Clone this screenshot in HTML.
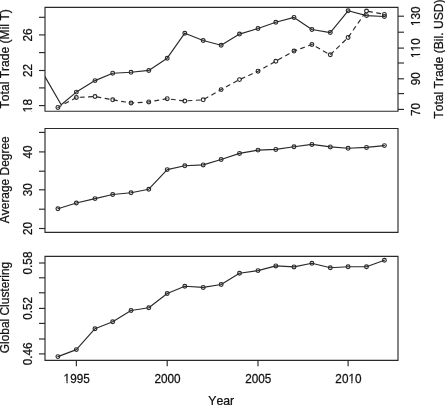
<!DOCTYPE html>
<html><head><meta charset="utf-8"><style>
html,body{margin:0;padding:0;background:#fff;width:445px;height:405px;overflow:hidden;}
svg{display:block;filter:grayscale(1);font-family:"Liberation Sans", sans-serif;}
</style></head><body>
<svg xmlns="http://www.w3.org/2000/svg" width="445" height="405" viewBox="0 0 445 405">
<defs><clipPath id="c0"><rect x="45.0" y="7.4" width="353.00" height="103.80"/></clipPath><clipPath id="c1"><rect x="45.0" y="128.5" width="353.00" height="103.80"/></clipPath><clipPath id="c2"><rect x="45.0" y="256.4" width="353.00" height="103.90"/></clipPath></defs>
<g fill="none" stroke="#2a2a2a" stroke-width="1.15" stroke-linecap="round" stroke-linejoin="round">
<path d="M45.0,7.4H398.0V111.2H45.0Z" fill="none" stroke-linejoin="miter" stroke-linecap="butt"/>
<path d="M45.0,128.5H398.0V232.3H45.0Z" fill="none" stroke-linejoin="miter" stroke-linecap="butt"/>
<path d="M45.0,256.4H398.0V360.3H45.0Z" fill="none" stroke-linejoin="miter" stroke-linecap="butt"/>
<g clip-path="url(#c0)">
<polyline points="40.00,68.10 61.20,104.70 76.35,92.10 95.00,80.60 112.70,73.20 131.05,72.30 148.80,70.40 167.20,58.20 184.80,33.20 203.20,40.50 221.15,45.30 239.50,34.10 258.00,28.50 275.80,22.20 294.00,17.40 311.90,29.50 330.30,32.60 348.10,10.80 366.50,15.60 384.40,16.50" fill="none" />
<circle cx="76.35" cy="92.10" r="1.9"/>
<circle cx="95.00" cy="80.60" r="1.9"/>
<circle cx="112.70" cy="73.20" r="1.9"/>
<circle cx="131.05" cy="72.30" r="1.9"/>
<circle cx="148.80" cy="70.40" r="1.9"/>
<circle cx="167.20" cy="58.20" r="1.9"/>
<circle cx="184.80" cy="33.20" r="1.9"/>
<circle cx="203.20" cy="40.50" r="1.9"/>
<circle cx="221.15" cy="45.30" r="1.9"/>
<circle cx="239.50" cy="34.10" r="1.9"/>
<circle cx="258.00" cy="28.50" r="1.9"/>
<circle cx="275.80" cy="22.20" r="1.9"/>
<circle cx="294.00" cy="17.40" r="1.9"/>
<circle cx="311.90" cy="29.50" r="1.9"/>
<circle cx="330.30" cy="32.60" r="1.9"/>
<circle cx="348.10" cy="10.80" r="1.9"/>
<circle cx="366.50" cy="15.60" r="1.9"/>
<circle cx="384.40" cy="16.50" r="1.9"/>
<polyline points="57.90,107.40 76.35,97.50 95.00,96.50 112.70,99.80 131.05,103.00 148.80,101.90 167.20,98.70 184.80,101.00 203.20,99.80 221.15,89.60 239.50,79.60 258.00,71.20 275.80,61.20 294.00,51.10 311.90,44.50 330.30,54.80 348.10,37.40 366.50,11.00 384.40,14.40" fill="none" stroke-dasharray="4.0 4.37" stroke-dashoffset="0.32"/>
<circle cx="57.90" cy="107.40" r="1.9"/>
<circle cx="76.35" cy="97.50" r="1.9"/>
<circle cx="95.00" cy="96.50" r="1.9"/>
<circle cx="112.70" cy="99.80" r="1.9"/>
<circle cx="131.05" cy="103.00" r="1.9"/>
<circle cx="148.80" cy="101.90" r="1.9"/>
<circle cx="167.20" cy="98.70" r="1.9"/>
<circle cx="184.80" cy="101.00" r="1.9"/>
<circle cx="203.20" cy="99.80" r="1.9"/>
<circle cx="221.15" cy="89.60" r="1.9"/>
<circle cx="239.50" cy="79.60" r="1.9"/>
<circle cx="258.00" cy="71.20" r="1.9"/>
<circle cx="275.80" cy="61.20" r="1.9"/>
<circle cx="294.00" cy="51.10" r="1.9"/>
<circle cx="311.90" cy="44.50" r="1.9"/>
<circle cx="330.30" cy="54.80" r="1.9"/>
<circle cx="348.10" cy="37.40" r="1.9"/>
<circle cx="366.50" cy="11.00" r="1.9"/>
<circle cx="384.40" cy="14.40" r="1.9"/>
</g>
<polyline points="57.90,208.70 76.35,203.00 95.00,198.60 112.70,194.50 131.05,192.80 148.80,189.20 167.20,169.60 184.80,165.80 203.20,164.90 221.15,159.50 239.50,153.40 258.00,150.10 275.80,149.40 294.00,146.70 311.90,144.40 330.30,146.90 348.10,148.30 366.50,147.40 384.40,145.60" fill="none" />
<circle cx="57.90" cy="208.70" r="1.9"/>
<circle cx="76.35" cy="203.00" r="1.9"/>
<circle cx="95.00" cy="198.60" r="1.9"/>
<circle cx="112.70" cy="194.50" r="1.9"/>
<circle cx="131.05" cy="192.80" r="1.9"/>
<circle cx="148.80" cy="189.20" r="1.9"/>
<circle cx="167.20" cy="169.60" r="1.9"/>
<circle cx="184.80" cy="165.80" r="1.9"/>
<circle cx="203.20" cy="164.90" r="1.9"/>
<circle cx="221.15" cy="159.50" r="1.9"/>
<circle cx="239.50" cy="153.40" r="1.9"/>
<circle cx="258.00" cy="150.10" r="1.9"/>
<circle cx="275.80" cy="149.40" r="1.9"/>
<circle cx="294.00" cy="146.70" r="1.9"/>
<circle cx="311.90" cy="144.40" r="1.9"/>
<circle cx="330.30" cy="146.90" r="1.9"/>
<circle cx="348.10" cy="148.30" r="1.9"/>
<circle cx="366.50" cy="147.40" r="1.9"/>
<circle cx="384.40" cy="145.60" r="1.9"/>
<polyline points="57.90,356.60 76.35,349.60 95.00,328.70 112.70,321.70 131.05,310.50 148.80,307.70 167.20,293.50 184.80,286.30 203.20,287.40 221.15,284.50 239.50,273.30 258.00,270.60 275.80,265.90 294.00,266.90 311.90,263.20 330.30,267.70 348.10,266.70 366.50,266.70 384.40,260.20" fill="none" />
<circle cx="57.90" cy="356.60" r="1.9"/>
<circle cx="76.35" cy="349.60" r="1.9"/>
<circle cx="95.00" cy="328.70" r="1.9"/>
<circle cx="112.70" cy="321.70" r="1.9"/>
<circle cx="131.05" cy="310.50" r="1.9"/>
<circle cx="148.80" cy="307.70" r="1.9"/>
<circle cx="167.20" cy="293.50" r="1.9"/>
<circle cx="184.80" cy="286.30" r="1.9"/>
<circle cx="203.20" cy="287.40" r="1.9"/>
<circle cx="221.15" cy="284.50" r="1.9"/>
<circle cx="239.50" cy="273.30" r="1.9"/>
<circle cx="258.00" cy="270.60" r="1.9"/>
<circle cx="275.80" cy="265.90" r="1.9"/>
<circle cx="294.00" cy="266.90" r="1.9"/>
<circle cx="311.90" cy="263.20" r="1.9"/>
<circle cx="330.30" cy="267.70" r="1.9"/>
<circle cx="348.10" cy="266.70" r="1.9"/>
<circle cx="366.50" cy="266.70" r="1.9"/>
<circle cx="384.40" cy="260.20" r="1.9"/>
<line x1="39.00" y1="17.30" x2="45.00" y2="17.30" stroke-linecap="butt"/>
<line x1="39.00" y1="34.90" x2="45.00" y2="34.90" stroke-linecap="butt"/>
<line x1="39.00" y1="52.60" x2="45.00" y2="52.60" stroke-linecap="butt"/>
<line x1="39.00" y1="70.50" x2="45.00" y2="70.50" stroke-linecap="butt"/>
<line x1="39.00" y1="87.90" x2="45.00" y2="87.90" stroke-linecap="butt"/>
<line x1="39.00" y1="105.60" x2="45.00" y2="105.60" stroke-linecap="butt"/>
<line x1="398.00" y1="16.20" x2="404.00" y2="16.20" stroke-linecap="butt"/>
<line x1="398.00" y1="32.20" x2="404.00" y2="32.20" stroke-linecap="butt"/>
<line x1="398.00" y1="48.10" x2="404.00" y2="48.10" stroke-linecap="butt"/>
<line x1="398.00" y1="63.00" x2="404.00" y2="63.00" stroke-linecap="butt"/>
<line x1="398.00" y1="78.80" x2="404.00" y2="78.80" stroke-linecap="butt"/>
<line x1="398.00" y1="93.60" x2="404.00" y2="93.60" stroke-linecap="butt"/>
<line x1="398.00" y1="109.40" x2="404.00" y2="109.40" stroke-linecap="butt"/>
<line x1="39.00" y1="132.40" x2="45.00" y2="132.40" stroke-linecap="butt"/>
<line x1="39.00" y1="151.90" x2="45.00" y2="151.90" stroke-linecap="butt"/>
<line x1="39.00" y1="171.20" x2="45.00" y2="171.20" stroke-linecap="butt"/>
<line x1="39.00" y1="189.80" x2="45.00" y2="189.80" stroke-linecap="butt"/>
<line x1="39.00" y1="209.20" x2="45.00" y2="209.20" stroke-linecap="butt"/>
<line x1="39.00" y1="228.50" x2="45.00" y2="228.50" stroke-linecap="butt"/>
<line x1="39.00" y1="263.00" x2="45.00" y2="263.00" stroke-linecap="butt"/>
<line x1="39.00" y1="277.80" x2="45.00" y2="277.80" stroke-linecap="butt"/>
<line x1="39.00" y1="292.80" x2="45.00" y2="292.80" stroke-linecap="butt"/>
<line x1="39.00" y1="308.40" x2="45.00" y2="308.40" stroke-linecap="butt"/>
<line x1="39.00" y1="323.40" x2="45.00" y2="323.40" stroke-linecap="butt"/>
<line x1="39.00" y1="339.00" x2="45.00" y2="339.00" stroke-linecap="butt"/>
<line x1="39.00" y1="353.90" x2="45.00" y2="353.90" stroke-linecap="butt"/>
<line x1="76.35" y1="360.30" x2="76.35" y2="366.30" stroke-linecap="butt"/>
<line x1="167.20" y1="360.30" x2="167.20" y2="366.30" stroke-linecap="butt"/>
<line x1="258.00" y1="360.30" x2="258.00" y2="366.30" stroke-linecap="butt"/>
<line x1="348.10" y1="360.30" x2="348.10" y2="366.30" stroke-linecap="butt"/>
</g>
<g fill="#111" stroke="#111" stroke-width="0.25" font-family="Liberation Sans, sans-serif" font-size="12.25" style="font-kerning:none">
<text x="0" y="0" text-anchor="middle" font-size="11.75" transform="translate(32.30,105.60) rotate(-90) scale(1,1.07)">18</text>
<text x="0" y="0" text-anchor="middle" font-size="11.75" transform="translate(32.30,70.50) rotate(-90) scale(1,1.07)">22</text>
<text x="0" y="0" text-anchor="middle" font-size="11.75" transform="translate(32.30,34.90) rotate(-90) scale(1,1.07)">26</text>
<text x="0" y="0" text-anchor="middle" font-size="11.75" transform="translate(32.30,228.50) rotate(-90) scale(1,1.07)">20</text>
<text x="0" y="0" text-anchor="middle" font-size="11.75" transform="translate(32.30,189.80) rotate(-90) scale(1,1.07)">30</text>
<text x="0" y="0" text-anchor="middle" font-size="11.75" transform="translate(32.30,151.90) rotate(-90) scale(1,1.07)">40</text>
<text x="0" y="0" text-anchor="middle" font-size="11.75" transform="translate(32.30,353.90) rotate(-90) scale(1,1.07)">0.46</text>
<text x="0" y="0" text-anchor="middle" font-size="11.75" transform="translate(32.30,308.40) rotate(-90) scale(1,1.07)">0.52</text>
<text x="0" y="0" text-anchor="middle" font-size="11.75" transform="translate(32.30,263.00) rotate(-90) scale(1,1.07)">0.58</text>
<text x="0" y="0" text-anchor="middle" font-size="11.75" transform="translate(419.60,109.40) rotate(-90) scale(1,1.07)">70</text>
<text x="0" y="0" text-anchor="middle" font-size="11.75" transform="translate(419.60,78.80) rotate(-90) scale(1,1.07)">90</text>
<text x="0" y="0" text-anchor="middle" font-size="11.75" transform="translate(419.60,48.10) rotate(-90) scale(1,1.07)">110</text>
<text x="0" y="0" text-anchor="middle" font-size="11.75" transform="translate(419.60,16.20) rotate(-90) scale(1,1.07)">130</text>
<text x="0" y="0" text-anchor="middle" font-size="11.75" transform="translate(76.65,382.60) scale(1,1.07)">1995</text>
<text x="0" y="0" text-anchor="middle" font-size="11.75" transform="translate(167.50,382.60) scale(1,1.07)">2000</text>
<text x="0" y="0" text-anchor="middle" font-size="11.75" transform="translate(258.30,382.60) scale(1,1.07)">2005</text>
<text x="0" y="0" text-anchor="middle" font-size="11.75" transform="translate(348.40,382.60) scale(1,1.07)">2010</text>
<text x="0" y="0" text-anchor="middle" transform="translate(221.20,405.20)">Year</text>
<text x="0" y="0" text-anchor="middle" font-size="12.08" transform="translate(8.60,58.88) rotate(-90)">Total Trade (Mil T)</text>
<text x="0" y="0" text-anchor="middle" font-size="11.93" transform="translate(8.60,179.76) rotate(-90)">Average Degree</text>
<text x="0" y="0" text-anchor="middle" font-size="11.93" transform="translate(8.60,307.54) rotate(-90)">Global Clustering</text>
<text x="0" y="0" text-anchor="middle" font-size="12.13" transform="translate(442.80,59.09) rotate(-90)">Total Trade (Bil. USD)</text>
</g>
<g fill="#fff"><g transform="translate(32.30,105.60) rotate(-90) scale(1,1.07)"><rect x="-5.99" y="-1.23" width="2.35" height="2.73"/><rect x="-2.48" y="-1.23" width="2.29" height="2.73"/></g><g transform="translate(419.60,48.10) rotate(-90) scale(1,1.07)"><rect x="-9.26" y="-1.23" width="2.35" height="2.73"/><rect x="-5.75" y="-1.23" width="2.29" height="2.73"/><rect x="-2.72" y="-1.23" width="2.35" height="2.73"/><rect x="0.78" y="-1.23" width="2.29" height="2.73"/></g><g transform="translate(419.60,16.20) rotate(-90) scale(1,1.07)"><rect x="-9.26" y="-1.23" width="2.35" height="2.73"/><rect x="-5.75" y="-1.23" width="2.29" height="2.73"/></g><g transform="translate(76.65,382.60) scale(1,1.07)"><rect x="-12.52" y="-1.23" width="2.35" height="2.73"/><rect x="-9.02" y="-1.23" width="2.29" height="2.73"/></g><g transform="translate(348.40,382.60) scale(1,1.07)"><rect x="0.55" y="-1.23" width="2.35" height="2.73"/><rect x="4.05" y="-1.23" width="2.29" height="2.73"/></g></g>
</svg>
</body></html>
